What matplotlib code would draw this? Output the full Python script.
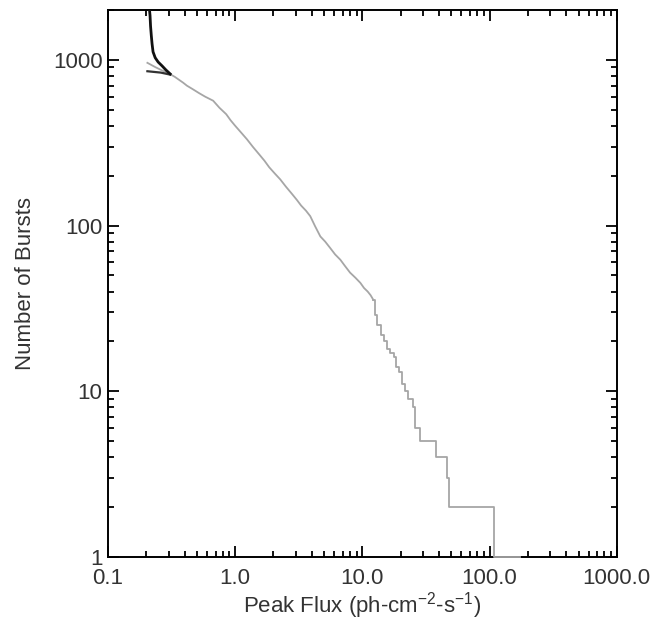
import matplotlib
matplotlib.use('agg')
import matplotlib.pyplot as plt
from matplotlib.ticker import FixedLocator, LogLocator, NullFormatter

plt.rcParams['font.family'] = ['Liberation Sans', 'DejaVu Sans']
plt.rcParams['mathtext.fontset'] = 'custom'
plt.rcParams['mathtext.rm'] = 'Liberation Sans'
plt.rcParams['mathtext.default'] = 'regular'

# black curve (top-left, steep part)
black_flux = [0.212, 0.214, 0.216, 0.219, 0.222, 0.226, 0.235, 0.248, 0.265, 0.285, 0.308]
black_count = [2000, 1850, 1600, 1400, 1250, 1118, 1030, 970, 923, 870, 823]

# second dark short line
dark_flux = [0.204, 0.23, 0.26, 0.308]
dark_count = [854, 846, 838, 815]

# gray cumulative curve, smooth part
gray_flux = [0.204, 0.235, 0.265, 0.308, 0.335, 0.36, 0.39, 0.417, 0.46, 0.52, 0.58, 0.671,
             0.75, 0.85, 0.92, 1.0, 1.1, 1.236, 1.38, 1.55, 1.7, 1.85, 2.05, 2.26, 2.5,
             2.8, 3.05, 3.3, 3.6, 3.89, 4.25, 4.67, 5.1, 5.6, 6.1, 6.71, 7.3, 8.0, 8.8,
             9.64, 10.3, 11.0, 11.6, 12.2]
gray_count = [960, 905, 865, 820, 790, 760, 728, 699, 668, 630, 600, 567,
              515, 470, 432, 400, 368, 332, 298, 268, 246, 225, 206, 190, 172,
              155, 143, 132, 123, 114, 99, 86, 80, 73, 67, 62.2, 57, 52, 48.5,
              45.1, 42, 40, 38, 35.6]

# gray tail, drawn as steps
tail_flux = [12.2, 12.6, 13.1, 13.9, 14.8, 15.6, 16.6, 17.6, 18.4, 19.3, 20.5, 21.8,
             23.0, 23.9, 25.0, 26.1, 28.6, 37.6, 46.5, 48.0, 108.0, 172.0]
tail_count = [35.6, 29, 25, 22, 20, 18, 17, 16, 14, 13, 11, 10,
              9, 9, 8, 6, 5, 4, 3, 2, 1, 1]

xticks = [0.1, 1.0, 10.0, 100.0, 1000.0]
xticklabels = ['0.1', '1.0', '10.0', '100.0', '1000.0']
yticks = [1, 10, 100, 1000]
yticklabels = ['1', '10', '100', '1000']

fig = plt.figure(figsize=(6.57, 6.25), dpi=100)
ax = fig.add_axes([0.1644, 0.1088, 0.7744, 0.8752])

gray = '#a6a6a6'
ax.plot(gray_flux, gray_count, color=gray, lw=1.3, zorder=3)
ax.step(tail_flux, tail_count, where='post', color=gray, lw=1.3, zorder=5, clip_on=False)
ax.plot(dark_flux, dark_count, color='#333333', lw=1.6, zorder=4)
ax.plot(black_flux, black_count, color='#111111', lw=2.0, zorder=4)

ax.set_xscale('log')
ax.set_yscale('log')
ax.set_xlim(0.1, 1000)
ax.set_ylim(1, 2000)

ax.xaxis.set_major_locator(FixedLocator(xticks))
ax.set_xticklabels(xticklabels)
ax.yaxis.set_major_locator(FixedLocator(yticks))
ax.set_yticklabels(yticklabels)
ax.xaxis.set_minor_locator(LogLocator(base=10, subs=range(2, 10)))
ax.yaxis.set_minor_locator(LogLocator(base=10, subs=range(2, 10)))
ax.xaxis.set_minor_formatter(NullFormatter())
ax.yaxis.set_minor_formatter(NullFormatter())

ax.tick_params(which='both', direction='in', top=True, right=True, width=1.3,
               labelsize=16, labelcolor='#333333')
ax.tick_params(which='major', length=8)
ax.tick_params(which='minor', length=4.5)
ax.tick_params(axis='x', pad=8)
ax.tick_params(axis='y', pad=4)
for s in ax.spines.values():
    s.set_linewidth(1.4)
    s.set_zorder(2)

ax.set_xlabel('Peak Flux (ph-cm$^{-2}$-s$^{-1}$)', fontsize=16, color='#333333', labelpad=1)
ax.set_ylabel('Number of Bursts', fontsize=16, color='#333333', labelpad=12)

plt.savefig('out.png', dpi=100)
